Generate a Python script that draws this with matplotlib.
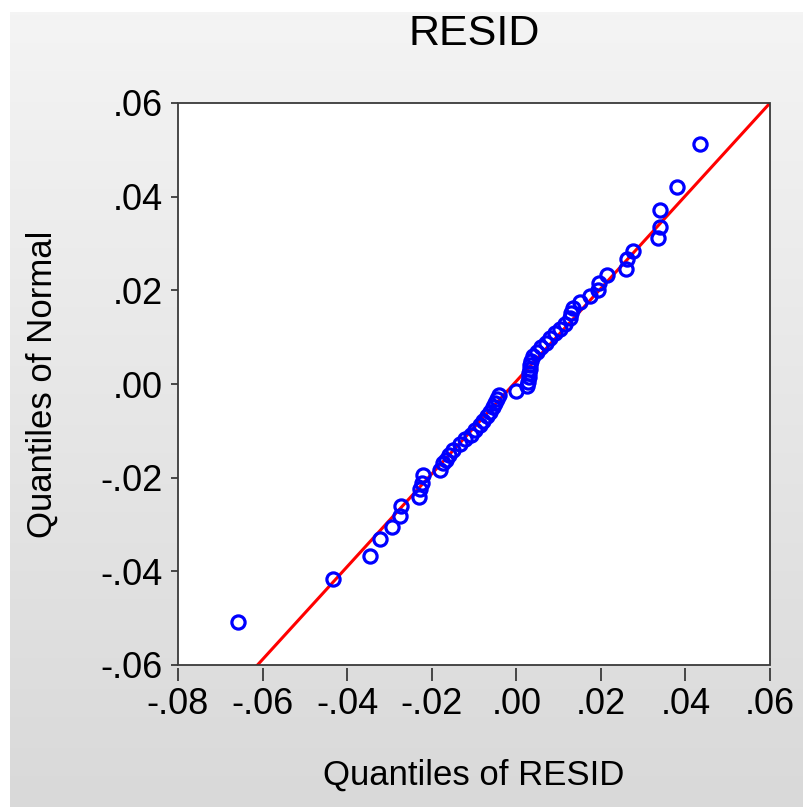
import numpy as np
import matplotlib.pyplot as plt
from matplotlib.patches import Rectangle

plt.rcParams['font.family'] = ['Liberation Sans', 'DejaVu Sans']

# sorted residuals (x) against normal quantiles (y)
resid_q = [-0.0657, -0.0433, -0.0345, -0.0323, -0.0294, -0.0275, -0.0273, -0.0231,
           -0.0227, -0.0223, -0.0221, -0.0180, -0.0173, -0.0166, -0.0160, -0.0150,
           -0.0133, -0.0122, -0.0108, -0.0097, -0.0086, -0.0078, -0.0069, -0.0062,
           -0.0056, -0.0050, -0.0045, -0.0040, 0.0000, 0.0025,
           0.0028, 0.0030, 0.0031, 0.0032, 0.0033, 0.0035, 0.0040, 0.0050,
           0.0058, 0.0070, 0.0080, 0.0092, 0.0104, 0.0116, 0.0126, 0.0130,
           0.0135, 0.0151, 0.0175, 0.0194, 0.0196, 0.0215, 0.0260, 0.0263,
           0.0275, 0.0336, 0.0341, 0.0341, 0.0381, 0.0435]
normal_q = [-0.0508, -0.0416, -0.0367, -0.0331, -0.0305, -0.0282, -0.0261, -0.0241,
            -0.0224, -0.0211, -0.0194, -0.0184, -0.0169, -0.0163, -0.0151, -0.0140,
            -0.0129, -0.0118, -0.0108, -0.0098, -0.0088, -0.0078, -0.0069, -0.0059,
            -0.0050, -0.0041, -0.0032, -0.0023, -0.0014, -0.0005,
            0.0005, 0.0014, 0.0023, 0.0032, 0.0041, 0.0050, 0.0059, 0.0069,
            0.0078, 0.0088, 0.0098, 0.0108, 0.0118, 0.0129, 0.0140, 0.0151,
            0.0163, 0.0175, 0.0188, 0.0201, 0.0216, 0.0233, 0.0246, 0.0267,
            0.0284, 0.0312, 0.0335, 0.0372, 0.0421, 0.0512]

# reference line end points
line_x = [-0.0612, 0.0600]
line_y = [-0.0600, 0.0600]

ticks = [-0.08, -0.06, -0.04, -0.02, 0.00, 0.02, 0.04, 0.06]
yticks = [-0.06, -0.04, -0.02, 0.00, 0.02, 0.04, 0.06]


def fmt(v):
    s = '%.2f' % v
    return s.replace('0.', '.')


fig = plt.figure(figsize=(8.04, 8.07), dpi=100, facecolor='white')

# gray gradient backdrop with a thin white margin top/left
bg = fig.add_axes([10 / 804, 0, 1 - 10 / 804, 1 - 12 / 807], zorder=-10)
grad = np.linspace(0, 1, 256).reshape(-1, 1)
bg.imshow(grad, aspect='auto', cmap=plt.matplotlib.colors.LinearSegmentedColormap.from_list(
    'g', ['#f4f4f4', '#d9d9d9']), extent=[0, 1, 0, 1], origin='upper')
bg.axis('off')

ax = fig.add_axes([178 / 804, 142 / 807, 592 / 804, 562 / 807])
ax.set_facecolor('white')

ax.plot(line_x, line_y, color='red', lw=2.2, zorder=2)
ax.plot(resid_q, normal_q, 'o', mfc='none', mec='#0000ff', ms=9.5, mew=2.3, zorder=3)

ax.set_xlim(-0.08, 0.06)
ax.set_ylim(-0.06, 0.06)
ax.set_xticks(ticks)
ax.set_xticklabels([fmt(t) for t in ticks])
ax.set_yticks(yticks)
ax.set_yticklabels([fmt(t) for t in yticks])

for s in ax.spines.values():
    s.set_color('none')
ax.spines['bottom'].set_position(('outward', 2.5))
ax.add_patch(Rectangle((0, 0), 1, 1, transform=ax.transAxes, fill=False,
                       edgecolor='#3a3a3a', lw=1.3, clip_on=False, zorder=5))

ax.tick_params(axis='x', direction='out', length=9.5, width=1.3, color='#3a3a3a',
               labelsize=26, pad=4)
ax.tick_params(axis='y', direction='out', length=5, width=1.3, color='#3a3a3a',
               labelsize=26, pad=6)

fig.text(474 / 804, 1 - 34 / 807, 'RESID', ha='center', va='center', fontsize=31)
fig.text(474 / 804, 1 - 775 / 807, 'Quantiles of RESID', ha='center', va='center', fontsize=25)
fig.text(42 / 804, 1 - 384 / 807, 'Quantiles of Normal', ha='center', va='center',
         rotation=90, fontsize=25)

fig.savefig('out.png', dpi=100)
